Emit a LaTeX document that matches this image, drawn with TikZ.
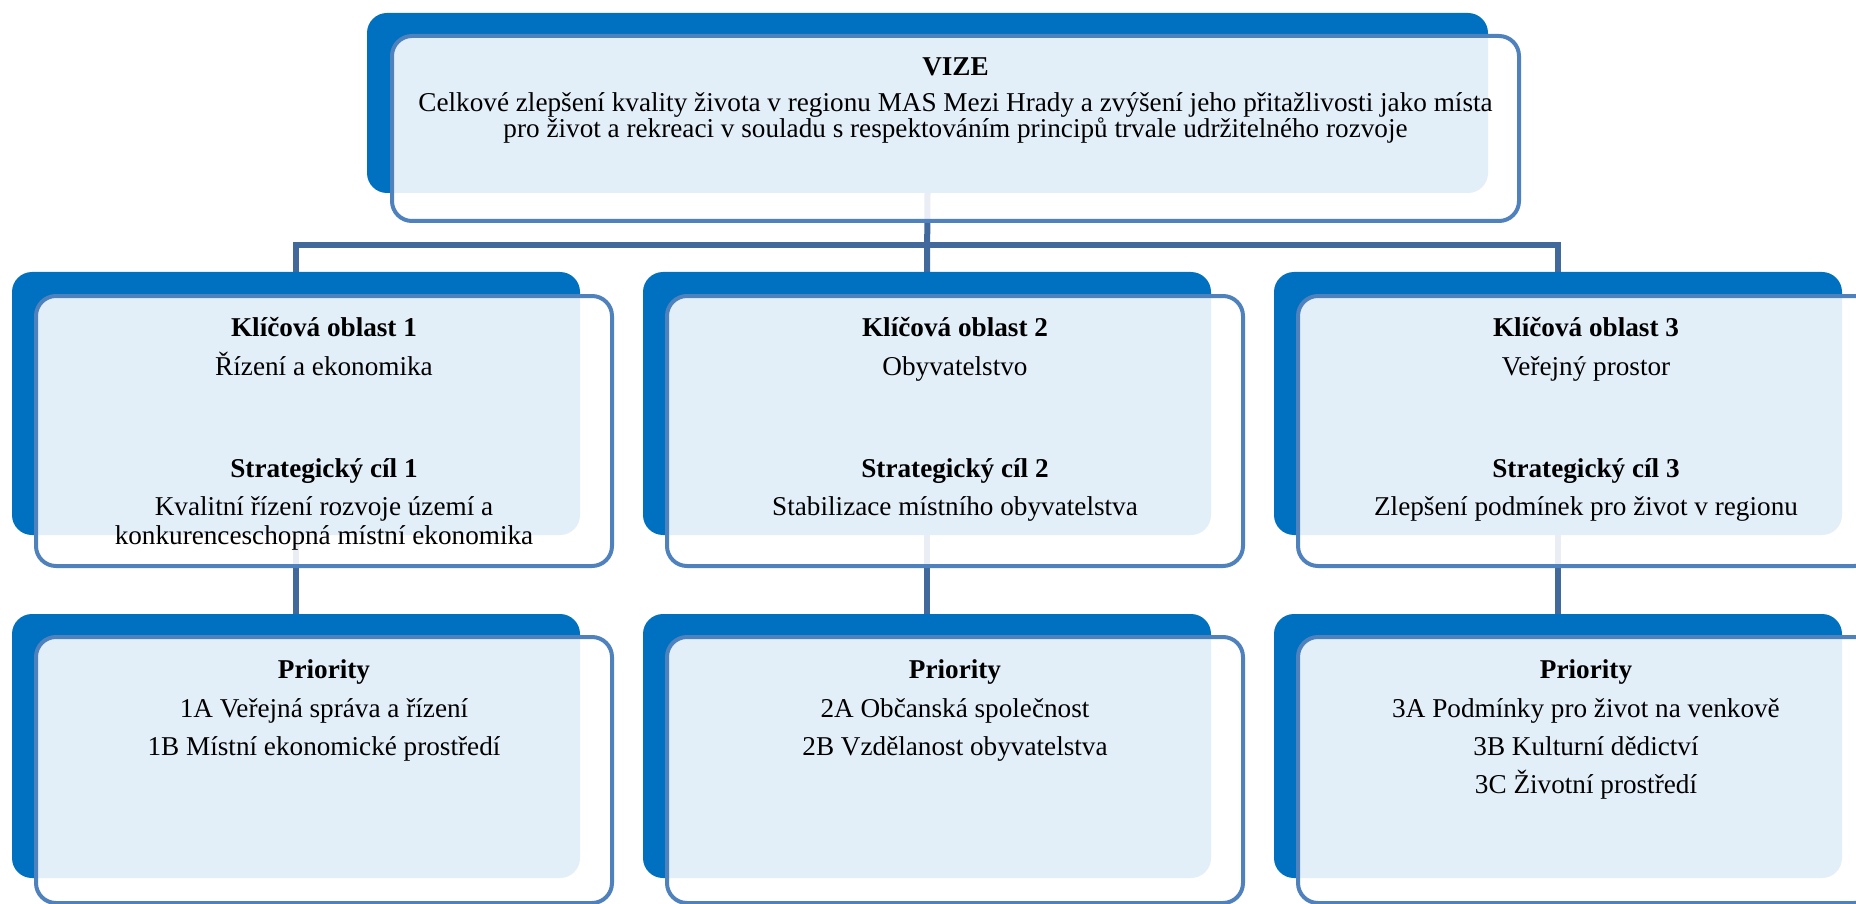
\documentclass[tikz,border=0pt]{standalone}
\usepackage{fontspec}
\setmainfont{Liberation Serif}
\usetikzlibrary{backgrounds}
\definecolor{backblue}{HTML}{0070C0}
\definecolor{outl}{HTML}{4F81BD}
\definecolor{connc}{HTML}{41699B}
\tikzset{
  backbox/.style={rectangle, rounded corners=20pt, fill=backblue, draw=none, inner sep=0pt, outer sep=0pt},
  frontbox/.style={rectangle, rounded corners=20pt, draw=outl, line width=4pt, fill=white, fill opacity=0.89, draw opacity=1, inner sep=0pt},
  connline/.style={draw=connc, line width=6pt, line join=miter},
  ttl/.style={font=\bfseries\fontsize{27.2}{31}\selectfont, anchor=base, inner sep=0pt},
  txt/.style={font=\fontsize{27.2}{31}\selectfont, anchor=base, inner sep=0pt},
}
\begin{document}
\begin{tikzpicture}[x=1pt,y=-1pt]
\useasboundingbox (0,0) rectangle (1856,904);
% top box
\node[backbox, minimum width=1121pt, minimum height=180pt] (topback) at (927.5,103) {};
\node[frontbox, minimum width=1127pt, minimum height=185pt] (topfront) at (955.5,128.5) {};
\node[ttl] (vize) at (955.5,76) {VIZE};
\node[txt] (vize1) at (955.5,112) {Celkové zlepšení kvality života v regionu MAS Mezi Hrady a zvýšení jeho přitažlivosti jako místa};
\node[txt] (vize2) at (955.5,138) {pro život a rekreaci v souladu s respektováním principů trvale udržitelného rozvoje};
% middle and bottom boxes
\foreach \i/\dx in {1/0,2/631,3/1262}{
  \node[backbox, minimum width=568pt, minimum height=263pt] (m\i back) at (296+\dx,403.5) {};
  \node[frontbox, minimum width=576pt, minimum height=270pt] (m\i front) at (324+\dx,431) {};
  \node[backbox, minimum width=568pt, minimum height=264pt] (b\i back) at (296+\dx,746) {};
  \node[frontbox, minimum width=576pt, minimum height=266pt] (b\i front) at (324+\dx,770) {};
}
% middle texts
\node[ttl] (k1) at (324,336) {Klíčová oblast 1};
\node[txt] (k1a) at (324,375) {Řízení a ekonomika};
\node[ttl] (s1) at (324,477) {Strategický cíl 1};
\node[txt] (s1a) at (324,515) {Kvalitní řízení rozvoje území a};
\node[txt] (s1b) at (324,544) {konkurenceschopná místní ekonomika};
\node[ttl] (k2) at (955,336) {Klíčová oblast 2};
\node[txt] (k2a) at (955,375) {Obyvatelstvo};
\node[ttl] (s2) at (955,477) {Strategický cíl 2};
\node[txt] (s2a) at (955,515) {Stabilizace místního obyvatelstva};
\node[ttl] (k3) at (1586,336) {Klíčová oblast 3};
\node[txt] (k3a) at (1586,375) {Veřejný prostor};
\node[ttl] (s3) at (1586,477) {Strategický cíl 3};
\node[txt] (s3a) at (1586,515) {Zlepšení podmínek pro život v regionu};
% bottom texts
\node[ttl] (p1) at (324,678) {Priority};
\node[txt] (p1a) at (324,717) {1A Veřejná správa a řízení};
\node[txt] (p1b) at (324,755) {1B Místní ekonomické prostředí};
\node[ttl] (p2) at (955,678) {Priority};
\node[txt] (p2a) at (955,717) {2A Občanská společnost};
\node[txt] (p2b) at (955,755) {2B Vzdělanost obyvatelstva};
\node[ttl] (p3) at (1586,678) {Priority};
\node[txt] (p3a) at (1586,717) {3A Podmínky pro život na venkově};
\node[txt] (p3b) at (1586,755) {3B Kulturní dědictví};
\node[txt] (p3c) at (1586,793) {3C Životní prostředí};
% connectors
\coordinate (jL) at (296,245.5);
\coordinate (jR) at (1558,245.5);
\begin{scope}[on background layer]
  \draw[connline] (m1back.north) -- (jL) -- (jR) -- (m3back.north);
  \draw[connline] (topback.south) -- (m2back.north);
  \draw[connline] (m1back.south) -- (b1back.north);
  \draw[connline] (m2back.south) -- (b2back.north);
  \draw[connline] (m3back.south) -- (b3back.north);
\end{scope}
\end{tikzpicture}
\end{document}
